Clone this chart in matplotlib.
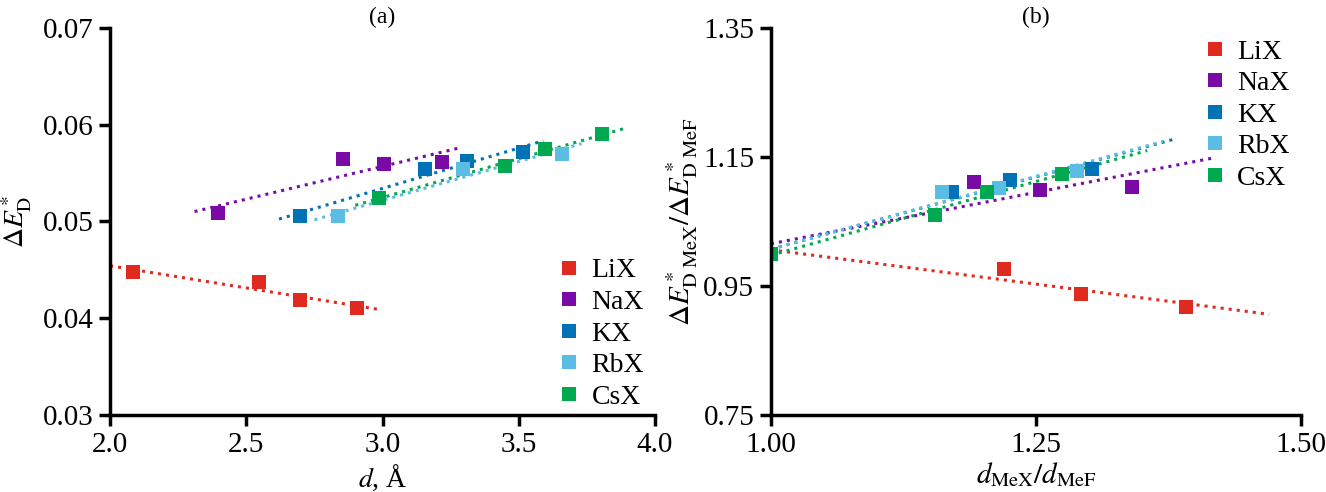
import matplotlib
matplotlib.use('Agg')
import matplotlib.pyplot as plt
import numpy as np

plt.rcParams['font.family'] = ['Liberation Serif', 'DejaVu Serif']
plt.rcParams['mathtext.fontset'] = 'stix'

series = ['LiX', 'NaX', 'KX', 'RbX', 'CsX']
colors = ['#e0291f', '#7a0aa5', '#0072b5', '#5bbde3', '#00a94f']

# panel (a): interatomic distance d (Å) vs. dissociation energy
d_a = {
    'LiX': [2.086, 2.546, 2.698, 2.908],
    'NaX': [2.397, 2.856, 3.007, 3.217],
    'KX': [2.696, 3.156, 3.310, 3.517],
    'RbX': [2.838, 3.297, 3.658],
    'CsX': [2.987, 3.448, 3.596, 3.806],
}
e_a = {
    'LiX': [0.04476, 0.04372, 0.04190, 0.04107],
    'NaX': [0.05083, 0.05641, 0.05590, 0.05610],
    'KX': [0.05052, 0.05541, 0.05624, 0.05717],
    'RbX': [0.05052, 0.05541, 0.05700],
    'CsX': [0.05248, 0.05570, 0.05750, 0.05900],
}
fit_range_a = {
    'LiX': [2.0, 2.98],
    'NaX': [2.31, 3.29],
    'KX': [2.62, 3.59],
    'RbX': [2.75, 3.73],
    'CsX': [2.90, 3.90],
}

# panel (b): values relative to the fluoride MeF
d_b = {
    'LiX': [1.0, 1.2198, 1.2923, 1.392],
    'NaX': [1.0, 1.1915, 1.254, 1.341],
    'KX': [1.0, 1.171, 1.2258, 1.3032],
    'RbX': [1.0, 1.161, 1.2149, 1.2883],
    'CsX': [1.0, 1.1544, 1.2036, 1.2742],
}
e_b = {
    'LiX': [1.0, 0.977, 0.9377, 0.9175],
    'NaX': [1.0, 1.1105, 1.099, 1.1032],
    'KX': [1.0, 1.0965, 1.1146, 1.1312],
    'RbX': [1.0, 1.0965, 1.1027, 1.129],
    'CsX': [1.0, 1.0603, 1.0955, 1.124],
}
fit_range_b = {
    'LiX': [1.0, 1.47],
    'NaX': [1.0, 1.42],
    'KX': [1.0, 1.38],
    'RbX': [1.0, 1.37],
    'CsX': [1.0, 1.355],
}

fig = plt.figure(figsize=(13.26, 4.92), dpi=100)
ax1 = fig.add_axes([0.083, 0.1565, 0.411, 0.7866])
ax2 = fig.add_axes([0.5814, 0.1565, 0.3997, 0.7866])


def draw(ax, xs, ys, ranges):
    for name, c in zip(series, colors):
        x = np.array(xs[name])
        y = np.array(ys[name])
        k, b = np.polyfit(x, y, 1)
        xr = np.array(ranges[name])
        ax.plot(xr, k * xr + b, ':', color=c, lw=2.2)
    for name, c in zip(series, colors):
        ax.plot(xs[name], ys[name], 's', color=c, ms=10, mew=0, label=name)
    for s in ['top', 'right']:
        ax.spines[s].set_visible(False)
    for s in ['left', 'bottom']:
        ax.spines[s].set_linewidth(2.5)
    ax.tick_params(direction='out', length=8, width=2.5, labelsize=21, pad=4)


draw(ax1, d_a, e_a, fit_range_a)
ax1.set_xlim(2.0, 4.0)
ax1.set_ylim(0.03, 0.07)
ax1.set_xticks([2.0, 2.5, 3.0, 3.5, 4.0])
ax1.set_yticks([0.03, 0.04, 0.05, 0.06, 0.07])
ax1.set_xticklabels(['2.0', '2.5', '3.0', '3.5', '4.0'])
ax1.set_yticklabels(['0.03', '0.04', '0.05', '0.06', '0.07'])
ax1.set_xlabel(r'$d$, Å', fontsize=20, labelpad=4)
ax1.set_ylabel(r'$\Delta E^*_{\mathrm{D}}$', fontsize=20, labelpad=6)
ax1.set_title('(a)', fontsize=17, pad=-8)
ax1.legend(loc='lower right', fontsize=20, frameon=False, handletextpad=0.3,
           handlelength=1.0, labelspacing=0.22, borderaxespad=0.0,
           bbox_to_anchor=(1.0, -0.015))

draw(ax2, d_b, e_b, fit_range_b)
ax2.set_xlim(1.0, 1.5)
ax2.set_ylim(0.75, 1.35)
ax2.set_xticks([1.0, 1.25, 1.5])
ax2.set_yticks([0.75, 0.95, 1.15, 1.35])
ax2.set_xticklabels(['1.00', '1.25', '1.50'])
ax2.set_yticklabels(['0.75', '0.95', '1.15', '1.35'])
ax2.set_xlabel(r'$d_{\mathrm{MeX}}/d_{\mathrm{MeF}}$', fontsize=21, labelpad=2)
ax2.set_ylabel(r'$\Delta E^*_{\mathrm{D\ MeX}}/\Delta E^*_{\mathrm{D\ MeF}}$', fontsize=21, labelpad=2)
ax2.set_title('(b)', fontsize=17, pad=-8)
ax2.legend(loc='upper right', fontsize=20, frameon=False, handletextpad=0.3,
           handlelength=1.0, labelspacing=0.22, borderaxespad=0.0,
           bbox_to_anchor=(1.0, 1.0))

fig.savefig('out.png', dpi=100)
